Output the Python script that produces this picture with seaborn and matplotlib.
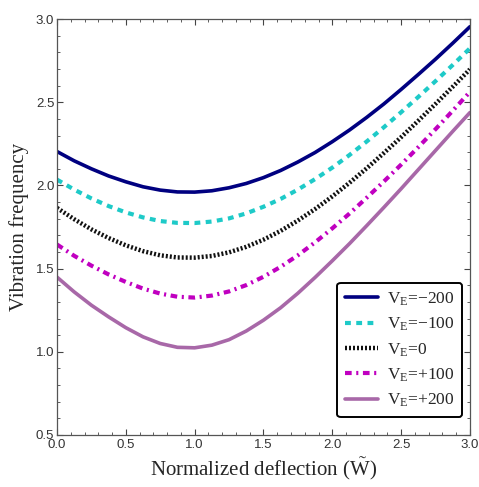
import numpy as np
import pandas as pd
import matplotlib
matplotlib.use("Agg")
import matplotlib.pyplot as plt
import seaborn as sns
from matplotlib.ticker import MultipleLocator

# ---- data ----
w_tilde = [0.0, 0.125, 0.25, 0.375, 0.5, 0.625, 0.75, 0.875, 1.0, 1.125, 1.25, 1.375, 1.5,
           1.625, 1.75, 1.875, 2.0, 2.125, 2.25, 2.375, 2.5, 2.625, 2.75, 2.875, 3.0]
freq_m200 = [2.204, 2.148, 2.100, 2.057, 2.022, 1.992, 1.972, 1.961, 1.960, 1.968, 1.986, 2.012, 2.047,
             2.090, 2.141, 2.198, 2.263, 2.333, 2.409, 2.490, 2.577, 2.667, 2.759, 2.855, 2.954]
freq_m100 = [2.035, 1.975, 1.922, 1.876, 1.838, 1.808, 1.786, 1.775, 1.774, 1.783, 1.802, 1.832, 1.872,
             1.919, 1.975, 2.038, 2.107, 2.183, 2.264, 2.350, 2.440, 2.532, 2.627, 2.724, 2.824]
freq_0 = [1.865, 1.797, 1.736, 1.684, 1.640, 1.605, 1.580, 1.567, 1.566, 1.576, 1.598, 1.631, 1.674,
          1.727, 1.789, 1.858, 1.934, 2.016, 2.103, 2.195, 2.290, 2.389, 2.490, 2.593, 2.698]
freq_p100 = [1.645, 1.577, 1.518, 1.465, 1.420, 1.380, 1.350, 1.331, 1.326, 1.338, 1.363, 1.401, 1.451,
             1.511, 1.580, 1.658, 1.742, 1.831, 1.926, 2.024, 2.125, 2.230, 2.338, 2.449, 2.562]
freq_p200 = [1.449, 1.360, 1.280, 1.210, 1.145, 1.090, 1.050, 1.027, 1.024, 1.040, 1.073, 1.125, 1.190,
             1.265, 1.352, 1.447, 1.547, 1.650, 1.758, 1.868, 1.980, 2.095, 2.210, 2.325, 2.438]
series_labels = ["V$_\\mathrm{E}$=\u2212200", "V$_\\mathrm{E}$=\u2212100", "V$_\\mathrm{E}$=0",
                 "V$_\\mathrm{E}$=+100", "V$_\\mathrm{E}$=+200"]
x_ticks = [0.0, 0.5, 1.0, 1.5, 2.0, 2.5, 3.0]
y_ticks = [0.5, 1.0, 1.5, 2.0, 2.5, 3.0]

sns.set_style("ticks")
plt.rcParams["font.family"] = ["Liberation Sans", "DejaVu Sans"]
plt.rcParams["mathtext.fontset"] = "custom"
plt.rcParams["mathtext.rm"] = "Liberation Serif"
plt.rcParams["mathtext.it"] = "Liberation Serif:italic"

fig = plt.figure(figsize=(4.79, 4.87), dpi=100)
ax = fig.add_axes([0.119, 0.1068, 0.862, 0.854])

colors = ["#000080", "#1ecac8", "#111111", "#c000c0", "#a868a8"]
styles = ["-", (0, (1.4, 1.3)), (0, (0.45, 0.45)), (0, (1.6, 1.1, 0.5, 1.1)), "-"]
widths = [2.6, 3.0, 3.2, 3.0, 2.6]
all_series = [freq_m200, freq_m100, freq_0, freq_p100, freq_p200]

for vals, lab, c, ls, lw in zip(all_series, series_labels, colors, styles, widths):
    df = pd.DataFrame({"w": w_tilde, "f": vals})
    sns.lineplot(data=df, x="w", y="f", ax=ax, color=c, linestyle=ls, linewidth=lw, label=lab)

ax.set_xlim(0, 3)
ax.set_ylim(0.5, 3.0)
ax.set_xticks(x_ticks)
ax.set_yticks(y_ticks)
ax.set_xticklabels([f"{t:.1f}" for t in x_ticks])
ax.set_yticklabels([f"{t:.1f}" for t in y_ticks])
ax.xaxis.set_minor_locator(MultipleLocator(0.1))
ax.yaxis.set_minor_locator(MultipleLocator(0.1))
ax.tick_params(which="both", direction="in", top=True, right=True, colors="#444444",
               labelcolor="#333333", labelsize=9.5)
ax.tick_params(which="major", length=4, width=0.8, pad=2)
ax.tick_params(axis="x", which="major", pad=3)
ax.tick_params(which="minor", length=2.2, width=0.6)
for s in ax.spines.values():
    s.set_color("#555555")
    s.set_linewidth(0.9)

ax.set_xlabel("Normalized deflection ($\\tilde{\\mathrm{W}}$)", family=["Liberation Serif", "DejaVu Serif"],
              fontsize=15, labelpad=3)
ax.set_ylabel("Vibration frequency", family=["Liberation Serif", "DejaVu Serif"],
              fontsize=15, labelpad=5)

leg = ax.legend(loc="lower right", bbox_to_anchor=(0.981, 0.043), borderaxespad=0,
                prop={"family": "Liberation Serif", "size": 12.5}, frameon=True,
                fancybox=True, handlelength=1.9, labelspacing=0.46, borderpad=0.45,
                handletextpad=0.5)
leg.get_frame().set_edgecolor("black")
leg.get_frame().set_linewidth(1.4)
leg.get_frame().set_alpha(1)

fig.savefig("out.png", dpi=100)
